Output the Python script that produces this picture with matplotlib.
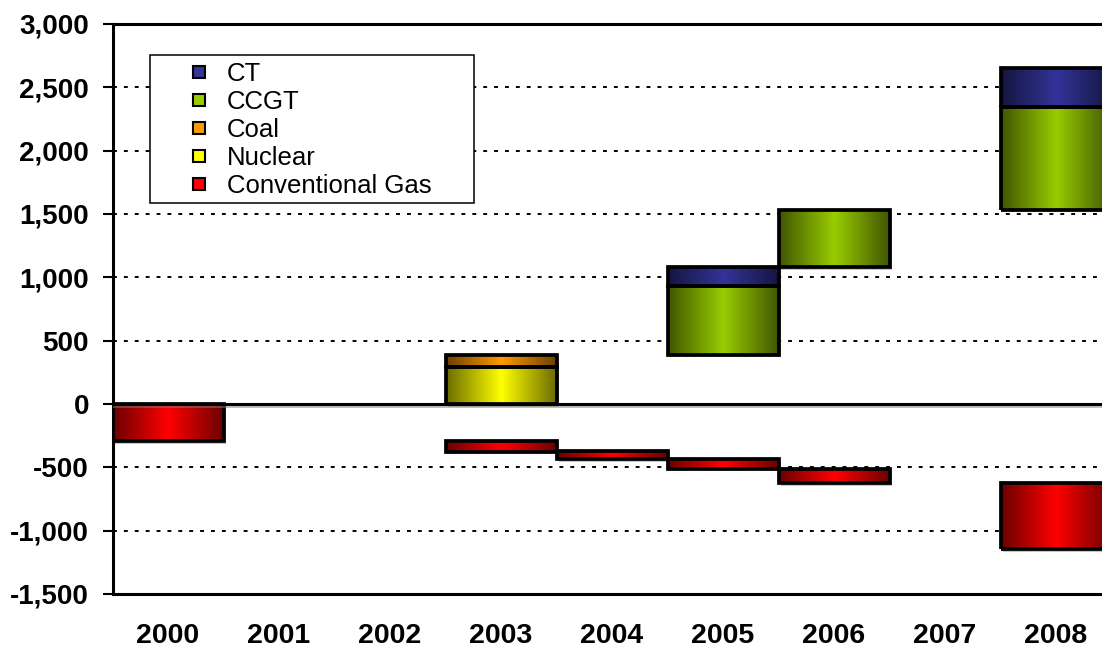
import numpy as np
import matplotlib
matplotlib.use('Agg')
import matplotlib.pyplot as plt
import matplotlib.ticker as mticker
import matplotlib.patheffects as pe
from matplotlib.lines import Line2D
from matplotlib.patches import Rectangle

plt.rcParams['font.family'] = ['Liberation Sans', 'DejaVu Sans']

years = ['2000', '2001', '2002', '2003', '2004', '2005', '2006', '2007', '2008']
nan = np.nan

# floating segments: lower / upper value of each bar (nan = no bar that year)
ct_lo = [nan, nan, nan, nan, nan, 935, nan, nan, 2345]
ct_hi = [nan, nan, nan, nan, nan, 1080, nan, nan, 2655]
ccgt_lo = [nan, nan, nan, nan, nan, 390, 1080, nan, 1535]
ccgt_hi = [nan, nan, nan, nan, nan, 935, 1535, nan, 2345]
coal_lo = [nan, nan, nan, 295, nan, nan, nan, nan, nan]
coal_hi = [nan, nan, nan, 390, nan, nan, nan, nan, nan]
nuc_lo = [nan, nan, nan, 0, nan, nan, nan, nan, nan]
nuc_hi = [nan, nan, nan, 295, nan, nan, nan, nan, nan]
gas_lo = [-290, nan, nan, -375, -438, -510, -625, nan, -1145]
gas_hi = [0, nan, nan, -290, -375, -438, -510, nan, -625]

series = [
    ('CT', ct_lo, ct_hi, (51, 51, 153)),
    ('CCGT', ccgt_lo, ccgt_hi, (153, 204, 0)),
    ('Coal', coal_lo, coal_hi, (255, 153, 0)),
    ('Nuclear', nuc_lo, nuc_hi, (255, 255, 0)),
    ('Conventional Gas', gas_lo, gas_hi, (255, 0, 0)),
]


def gradient(rgb):
    # dark edges, bright centre (horizontal)
    t = np.linspace(0, 1, 256)
    f = 0.42 + 0.58 * (1 - np.abs(2 * t - 1))
    c = np.array(rgb) / 255.0
    return (f[:, None] * c[None, :])[None, :, :]


fig = plt.figure(figsize=(11.02, 6.47), dpi=100)
ax = fig.add_axes([112.5 / 1102, 53 / 647, 999 / 1102, 570 / 647])

x = np.arange(len(years))
handles = []
for name, lo, hi, rgb in series:
    lo = np.array(lo, dtype=float)
    hi = np.array(hi, dtype=float)
    m = ~np.isnan(lo)
    col = tuple(np.array(rgb) / 255.0)
    bars = ax.bar(x[m], hi[m] - lo[m], bottom=lo[m], width=1.0, color=col, zorder=2,
                  edgecolor='none')
    for b in bars:
        b.set_path_effects([pe.SimplePatchShadow(offset=(2, -2), shadow_rgbFace='0.55', alpha=0.5),
                            pe.Normal()])
        x0, y0 = b.get_x(), b.get_y()
        im = ax.imshow(gradient(rgb), extent=(x0, x0 + b.get_width(), y0, y0 + b.get_height()),
                       aspect='auto', interpolation='bilinear', zorder=3)
        im.set_clip_path(b)
    ax.bar(x[m], hi[m] - lo[m], bottom=lo[m], width=1.0, fill=False, edgecolor='black',
           linewidth=2.7, zorder=4)
    handles.append(Line2D([], [], linestyle='none', marker='s', markersize=8.6,
                          markerfacecolor=col, markeredgecolor='black', markeredgewidth=1.5,
                          label=name))

ax.set_xlim(-0.5, 8.5)
ax.set_ylim(-1500, 3000)
ax.set_aspect('auto')
ax.yaxis.set_major_locator(mticker.MultipleLocator(500))
ax.yaxis.set_major_formatter(mticker.FuncFormatter(lambda v, p: f'{v:,.0f}'))
ax.set_xticks(x)
ax.set_xticklabels(years)

ax.grid(axis='y', color='black', linewidth=1.4, linestyle=(0, (2, 3.6)))
ax.set_axisbelow(True)
ax.axhline(0, color='black', linewidth=2.2, zorder=5,
           path_effects=[pe.SimpleLineShadow(offset=(0, -1.5), shadow_color='gray', alpha=0.5),
                         pe.Normal()])

for s in ax.spines.values():
    s.set_linewidth(2.2)
ax.tick_params(axis='y', direction='out', length=7, width=1.5, pad=10,
               labelsize=20)
ax.tick_params(axis='x', length=0, pad=21, labelsize=20.5)
for lab in ax.get_xticklabels() + ax.get_yticklabels():
    lab.set_fontweight('bold')

# legend box (white, thin black border)
ax.add_patch(Rectangle((0.0375, 0.686), 0.3245, 0.2596, transform=ax.transAxes,
                       facecolor='white', edgecolor='black', linewidth=1.1, zorder=6))
leg = ax.legend(handles=handles, loc='upper left', bbox_to_anchor=(0.0623, 0.934),
                frameon=False, borderpad=0, borderaxespad=0, fontsize=18.5,
                handlelength=1.9, handletextpad=0.12, labelspacing=0.16, numpoints=1)
leg.set_zorder(7)

fig.savefig('out.png', dpi=100)
